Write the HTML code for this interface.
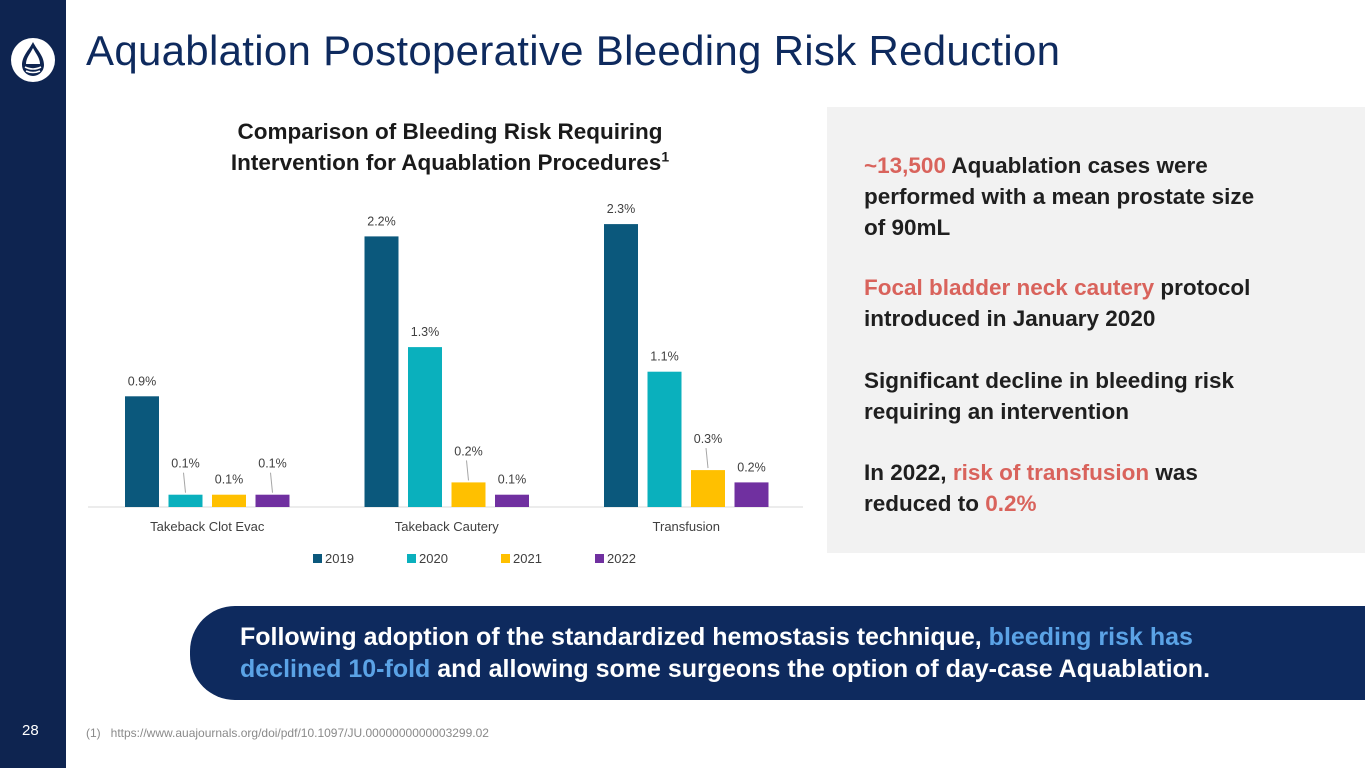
<!DOCTYPE html>
<html><head><meta charset="utf-8">
<style>
body{margin:0;width:1365px;height:768px;overflow:hidden;background:#fff;font-family:"Liberation Sans",sans-serif;position:relative}
.sidebar{position:absolute;left:0;top:0;width:66px;height:768px;background:#0e2450}
.title{position:absolute;left:86px;top:27px;font-size:42px;color:#0e2a5e;letter-spacing:0.3px}
.ctitle{position:absolute;left:170px;top:116px;width:560px;text-align:center;font-size:22.5px;font-weight:bold;color:#1a1a1a;line-height:31px}
.ctitle sup{font-size:14px;line-height:0}
.panel{position:absolute;left:827px;top:107px;width:538px;height:446px;background:#f2f2f2}
.panel p{margin:0;position:absolute;left:37px;font-size:22.5px;font-weight:bold;color:#1f1f1f;line-height:31px}
.red{color:#d9635c}
.banner{position:absolute;left:190px;top:606px;width:1175px;height:94px;background:#0e2a5e;border-radius:45px 0 0 45px}
.banner div{position:absolute;left:50px;top:15px;font-size:25px;font-weight:bold;color:#fff;line-height:32px;white-space:nowrap}
.blue{color:#5ba3e6}
.pagenum{position:absolute;left:22px;top:722px;font-size:15px;color:#fff}
.foot{position:absolute;left:86px;top:726px;font-size:12px;color:#8a8a8a}
</style></head><body>
<div class="sidebar"></div>
<svg style="position:absolute;left:9px;top:36px" width="48" height="48">
<circle cx="24" cy="24" r="22" fill="#fff"/>
<path d="M24 6 C20 14 13 20 13 29 A11 11 0 0 0 35 29 C35 20 28 14 24 6Z" fill="#0e2450"/>
<path d="M24 12 C21 18 17 22 17 28 L31 28 C31 22 27 18 24 12Z" fill="#fff"/>
<path d="M16 31 Q24 35 32 31 M17 35 Q24 38 31 35" stroke="#fff" stroke-width="1.6" fill="none"/>
</svg>
<div class="pagenum">28</div>
<div class="title">Aquablation Postoperative Bleeding Risk Reduction</div>
<div class="ctitle">Comparison of Bleeding Risk Requiring<br>Intervention for Aquablation Procedures<sup>1</sup></div>
<svg id="chart" style="position:absolute;left:0;top:0" width="820" height="600"></svg>
<div class="panel">
<p style="top:43px"><span class="red">~13,500</span> Aquablation cases were<br>performed with a mean prostate size<br>of 90mL</p>
<p style="top:165px"><span class="red">Focal bladder neck cautery</span> protocol<br>introduced in January 2020</p>
<p style="top:258px">Significant decline in bleeding risk<br>requiring an intervention</p>
<p style="top:350px">In 2022, <span class="red">risk of transfusion</span> was<br>reduced to <span class="red">0.2%</span></p>
</div>
<div class="banner"><div>Following adoption of the standardized hemostasis technique, <span class="blue">bleeding risk has<br>declined 10-fold</span> and allowing some surgeons the option of day-case Aquablation.</div></div>
<div class="foot">(1)&nbsp;&nbsp;&nbsp;https://www.auajournals.org/doi/pdf/10.1097/JU.0000000000003299.02</div>
<script>
const categories=["Takeback Clot Evac","Takeback Cautery","Transfusion"];
const years=["2019","2020","2021","2022"];
const colors=["#0b587c","#0ab0bd","#ffc000","#7030a0"];
const v2019=[0.9,2.2,2.3];
const v2020=[0.1,1.3,1.1];
const v2021=[0.1,0.2,0.3];
const v2022=[0.1,0.1,0.2];
const series=[v2019,v2020,v2021,v2022];
const leader=[[false,true,false,true],[false,false,true,false],[false,false,true,false]];
const NS="http://www.w3.org/2000/svg";
const svg=document.getElementById("chart");
const base=507,scale=123,x0=125,gp=239.5,bp=43.5,bw=34;
const y=v=>base-v*scale;
const xb=(g,s)=>x0+g*gp+s*bp;
function mk(t,a){const e=document.createElementNS(NS,t);for(const k in a)e.setAttribute(k,a[k]);svg.appendChild(e);return e;}
const ax=mk("line",{x1:88,x2:803,y1:base,y2:base,stroke:"#d9d9d9","stroke-width":1});


categories.forEach((c,g)=>{
  series.forEach((s,i)=>{
    const r=mk("rect",{x:xb(g,i),y:y(s[g]),width:bw,height:s[g]*scale,fill:colors[i]});
    
    
    const cx=xb(g,i)+bw/2;
    let ly=y(s[g])-11;
    if(leader[g][i]){ly-=16;const l=mk("line",{x1:cx-2,y1:ly+5,x2:cx,y2:y(s[g])-2,stroke:"#a6a6a6","stroke-width":1});}
    const t=mk("text",{x:cx,y:ly,"text-anchor":"middle","font-size":12.5,fill:"#404040","font-family":"Liberation Sans"});
    t.textContent=s[g].toFixed(1)+"%";
    
    
  });
  const t=mk("text",{x:xb(g,0)+(3*bp+bw)/2,y:531,"text-anchor":"middle","font-size":13,fill:"#404040","font-family":"Liberation Sans"});
  t.textContent=c;
  
  
});
years.forEach((yr,i)=>{
  const lx=313+i*94;
  const r=mk("rect",{x:lx,y:554,width:9,height:9,fill:colors[i]});
  
  
  const t=mk("text",{x:lx+12,y:563,"font-size":13,fill:"#404040","font-family":"Liberation Sans"});
  t.textContent=yr;
  
  
});
</script>
</body></html>
